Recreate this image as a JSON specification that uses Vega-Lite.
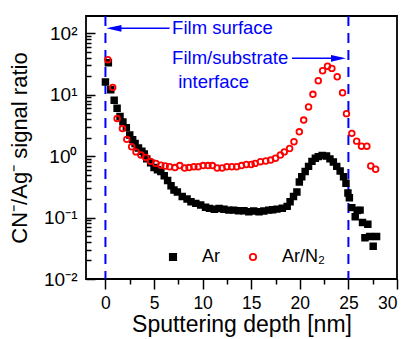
{
  "$schema": "https://vega.github.io/schema/vega-lite/v6.json",
  "width": 311,
  "height": 263,
  "autosize": "none",
  "padding": {"left": 86, "top": 16, "right": 13, "bottom": 60},
  "config": {
    "view": {"stroke": "black", "strokeWidth": 1.8},
    "font": "Liberation Sans",
    "axis": {"grid": false, "domain": false, "tickColor": "black", "tickWidth": 1.5, "labelColor": "black", "titleColor": "black", "labelFont": "Liberation Sans", "titleFont": "Liberation Sans", "titleFontWeight": "normal"},
    "legend": {"orient": "none", "legendX": 78, "legendY": 232, "direction": "horizontal", "symbolSize": 40, "symbolStrokeWidth": 1.8, "labelFontSize": 18, "labelFont": "Liberation Sans", "labelColor": "black", "labelOffset": 20, "columnPadding": 24, "title": null}
  },
  "datasets": {
    "pts": [
      {"d": 0.0, "r": 16, "s": "Ar"}, {"d": 0.3, "r": 33, "s": "Ar"}, {"d": 0.55, "r": 12, "s": "Ar"}, {"d": 0.9, "r": 8.1, "s": "Ar"},
      {"d": 1.2, "r": 6.0, "s": "Ar"}, {"d": 1.5, "r": 4.4, "s": "Ar"}, {"d": 1.8, "r": 3.6, "s": "Ar"}, {"d": 2.15, "r": 2.9, "s": "Ar"},
      {"d": 2.5, "r": 2.2, "s": "Ar"}, {"d": 2.8, "r": 1.85, "s": "Ar"}, {"d": 3.05, "r": 1.6, "s": "Ar"}, {"d": 3.4, "r": 1.35, "s": "Ar"},
      {"d": 3.75, "r": 1.2, "s": "Ar"}, {"d": 4.0, "r": 1.08, "s": "Ar"}, {"d": 4.25, "r": 0.9, "s": "Ar"}, {"d": 4.65, "r": 0.78, "s": "Ar"},
      {"d": 5.0, "r": 0.65, "s": "Ar"}, {"d": 5.35, "r": 0.6, "s": "Ar"}, {"d": 5.7, "r": 0.56, "s": "Ar"}, {"d": 6.05, "r": 0.48, "s": "Ar"},
      {"d": 6.4, "r": 0.4, "s": "Ar"}, {"d": 6.75, "r": 0.33, "s": "Ar"}, {"d": 7.05, "r": 0.28, "s": "Ar"}, {"d": 7.4, "r": 0.26, "s": "Ar"},
      {"d": 7.9, "r": 0.22, "s": "Ar"}, {"d": 8.4, "r": 0.2, "s": "Ar"}, {"d": 8.8, "r": 0.18, "s": "Ar"}, {"d": 9.3, "r": 0.17, "s": "Ar"},
      {"d": 9.8, "r": 0.16, "s": "Ar"}, {"d": 10.3, "r": 0.147, "s": "Ar"}, {"d": 10.7, "r": 0.141, "s": "Ar"}, {"d": 11.2, "r": 0.136, "s": "Ar"},
      {"d": 11.7, "r": 0.14, "s": "Ar"}, {"d": 12.2, "r": 0.136, "s": "Ar"}, {"d": 12.7, "r": 0.132, "s": "Ar"}, {"d": 13.2, "r": 0.132, "s": "Ar"},
      {"d": 13.7, "r": 0.129, "s": "Ar"}, {"d": 14.25, "r": 0.129, "s": "Ar"}, {"d": 14.75, "r": 0.124, "s": "Ar"}, {"d": 15.25, "r": 0.128, "s": "Ar"},
      {"d": 15.8, "r": 0.124, "s": "Ar"}, {"d": 16.3, "r": 0.128, "s": "Ar"}, {"d": 16.8, "r": 0.132, "s": "Ar"}, {"d": 17.2, "r": 0.134, "s": "Ar"},
      {"d": 17.65, "r": 0.137, "s": "Ar"}, {"d": 18.2, "r": 0.142, "s": "Ar"}, {"d": 18.7, "r": 0.152, "s": "Ar"}, {"d": 19.0, "r": 0.18, "s": "Ar"},
      {"d": 19.35, "r": 0.22, "s": "Ar"}, {"d": 19.7, "r": 0.26, "s": "Ar"}, {"d": 19.95, "r": 0.38, "s": "Ar"}, {"d": 20.2, "r": 0.46, "s": "Ar"},
      {"d": 20.55, "r": 0.56, "s": "Ar"}, {"d": 20.9, "r": 0.68, "s": "Ar"}, {"d": 21.25, "r": 0.82, "s": "Ar"}, {"d": 21.6, "r": 0.92, "s": "Ar"},
      {"d": 21.9, "r": 0.98, "s": "Ar"}, {"d": 22.3, "r": 1.02, "s": "Ar"}, {"d": 22.75, "r": 1.0, "s": "Ar"}, {"d": 23.1, "r": 0.9, "s": "Ar"},
      {"d": 23.45, "r": 0.8, "s": "Ar"}, {"d": 23.8, "r": 0.68, "s": "Ar"}, {"d": 24.15, "r": 0.57, "s": "Ar"}, {"d": 24.5, "r": 0.46, "s": "Ar"},
      {"d": 24.75, "r": 0.36, "s": "Ar"}, {"d": 24.95, "r": 0.25, "s": "Ar"}, {"d": 25.1, "r": 0.21, "s": "Ar"}, {"d": 25.35, "r": 0.145, "s": "Ar"},
      {"d": 25.9, "r": 0.13, "s": "Ar"}, {"d": 26.2, "r": 0.132, "s": "Ar"}, {"d": 25.7, "r": 0.103, "s": "Ar"}, {"d": 26.45, "r": 0.083, "s": "Ar"},
      {"d": 27.0, "r": 0.078, "s": "Ar"}, {"d": 26.7, "r": 0.047, "s": "Ar"}, {"d": 27.2, "r": 0.049, "s": "Ar"}, {"d": 27.9, "r": 0.049, "s": "Ar"},
      {"d": 27.55, "r": 0.034, "s": "Ar"},
      {"d": 0.25, "r": 37, "s": "Ar/N₂"}, {"d": 0.75, "r": 13.1, "s": "Ar/N₂"}, {"d": 1.2, "r": 4.1, "s": "Ar/N₂"}, {"d": 1.75, "r": 2.8, "s": "Ar/N₂"},
      {"d": 2.2, "r": 1.87, "s": "Ar/N₂"}, {"d": 2.7, "r": 1.42, "s": "Ar/N₂"}, {"d": 3.15, "r": 1.17, "s": "Ar/N₂"}, {"d": 3.65, "r": 1.04, "s": "Ar/N₂"},
      {"d": 4.15, "r": 0.95, "s": "Ar/N₂"}, {"d": 4.65, "r": 0.82, "s": "Ar/N₂"}, {"d": 5.2, "r": 0.76, "s": "Ar/N₂"}, {"d": 5.7, "r": 0.71, "s": "Ar/N₂"},
      {"d": 6.15, "r": 0.69, "s": "Ar/N₂"}, {"d": 6.6, "r": 0.67, "s": "Ar/N₂"}, {"d": 7.15, "r": 0.65, "s": "Ar/N₂"}, {"d": 7.65, "r": 0.7, "s": "Ar/N₂"},
      {"d": 8.15, "r": 0.64, "s": "Ar/N₂"}, {"d": 8.6, "r": 0.65, "s": "Ar/N₂"}, {"d": 9.1, "r": 0.67, "s": "Ar/N₂"}, {"d": 9.55, "r": 0.67, "s": "Ar/N₂"},
      {"d": 10.05, "r": 0.7, "s": "Ar/N₂"}, {"d": 10.55, "r": 0.7, "s": "Ar/N₂"}, {"d": 11.0, "r": 0.7, "s": "Ar/N₂"}, {"d": 11.5, "r": 0.64, "s": "Ar/N₂"},
      {"d": 12.0, "r": 0.64, "s": "Ar/N₂"}, {"d": 12.5, "r": 0.67, "s": "Ar/N₂"}, {"d": 13.0, "r": 0.67, "s": "Ar/N₂"}, {"d": 13.5, "r": 0.67, "s": "Ar/N₂"},
      {"d": 14.0, "r": 0.7, "s": "Ar/N₂"}, {"d": 14.5, "r": 0.73, "s": "Ar/N₂"}, {"d": 15.0, "r": 0.73, "s": "Ar/N₂"}, {"d": 15.4, "r": 0.76, "s": "Ar/N₂"},
      {"d": 15.95, "r": 0.81, "s": "Ar/N₂"}, {"d": 16.5, "r": 0.83, "s": "Ar/N₂"}, {"d": 17.0, "r": 0.86, "s": "Ar/N₂"}, {"d": 17.5, "r": 0.92, "s": "Ar/N₂"},
      {"d": 18.0, "r": 1.04, "s": "Ar/N₂"}, {"d": 18.4, "r": 1.17, "s": "Ar/N₂"}, {"d": 18.95, "r": 1.33, "s": "Ar/N₂"}, {"d": 19.4, "r": 1.71, "s": "Ar/N₂"},
      {"d": 19.95, "r": 2.48, "s": "Ar/N₂"}, {"d": 20.4, "r": 3.85, "s": "Ar/N₂"}, {"d": 20.9, "r": 6.3, "s": "Ar/N₂"}, {"d": 21.35, "r": 10.1, "s": "Ar/N₂"},
      {"d": 21.9, "r": 16.8, "s": "Ar/N₂"}, {"d": 22.35, "r": 24.4, "s": "Ar/N₂"}, {"d": 22.85, "r": 29, "s": "Ar/N₂"}, {"d": 23.3, "r": 26.7, "s": "Ar/N₂"},
      {"d": 23.85, "r": 19.5, "s": "Ar/N₂"}, {"d": 24.4, "r": 10.7, "s": "Ar/N₂"}, {"d": 24.8, "r": 4.9, "s": "Ar/N₂"}, {"d": 25.35, "r": 2.34, "s": "Ar/N₂"},
      {"d": 25.85, "r": 1.75, "s": "Ar/N₂"}, {"d": 26.35, "r": 1.45, "s": "Ar/N₂"}, {"d": 26.9, "r": 1.45, "s": "Ar/N₂"}, {"d": 27.3, "r": 0.69, "s": "Ar/N₂"},
      {"d": 27.8, "r": 0.61, "s": "Ar/N₂"}
    ],
    "vlines": [{"d": 0}, {"d": 25}],
    "arrows": [
      {"d": 0.5, "r": 120, "a": "surface"}, {"d": 6.6, "r": 120, "a": "surface"},
      {"d": 19.2, "r": 39, "a": "interface"}, {"d": 24.3, "r": 39, "a": "interface"}
    ],
    "labels": [
      {"d": 6.86, "r": 120, "t": "Film surface"},
      {"d": 6.86, "r": 39, "t": "Film/substrate"},
      {"d": 7.48, "r": 16, "t": "interface"}
    ],
    "headL": [{"d": 0.1, "r": 120}],
    "headR": [{"d": 24.75, "r": 39}]
  },
  "layer": [
    {
      "data": {"name": "vlines"},
      "mark": {"type": "rule", "color": "#0000ff", "strokeWidth": 2, "strokeDash": [10, 7]},
      "encoding": {"x": {"field": "d", "type": "quantitative", "axis": null}}
    },
    {
      "data": {"name": "pts"},
      "mark": {"type": "point", "size": 32, "strokeWidth": 1.8, "opacity": 1},
      "encoding": {
        "x": {"field": "d", "type": "quantitative", "scale": {"domain": [-2, 30], "nice": false, "zero": false},
          "axis": {"orient": "bottom", "values": [0, 5, 10, 15, 20, 25, 30], "tickSize": 10, "labelFontSize": 17.5, "labelPadding": 5, "title": "Sputtering depth [nm]", "titleFontSize": 23, "titlePadding": 2}},
        "y": {"field": "r", "type": "quantitative", "scale": {"type": "log", "domain": [0.01, 190], "nice": false},
          "axis": {"orient": "left", "values": [0.01, 0.1, 1, 10, 100], "tickSize": -9, "labelPadding": 18, "labelFontSize": 19,
            "labelExpr": "datum.value >= 99 ? '10²' : datum.value >= 9 ? '10¹' : datum.value >= 0.9 ? '10⁰' : datum.value >= 0.09 ? '10⁻¹' : '10⁻²'",
            "title": "CN⁻/Ag⁻ signal ratio", "titleFontSize": 22, "titlePadding": 12}},
        "shape": {"field": "s", "type": "nominal", "scale": {"domain": ["Ar", "Ar/N₂"], "range": ["square", "circle"]}, "legend": {"title": null}},
        "fill": {"field": "s", "type": "nominal", "scale": {"domain": ["Ar", "Ar/N₂"], "range": ["#000000", "transparent"]}, "legend": {"title": null}},
        "stroke": {"field": "s", "type": "nominal", "scale": {"domain": ["Ar", "Ar/N₂"], "range": ["#000000", "#ff0000"]}, "legend": {"title": null}}
      }
    },
    {
      "data": {"name": "arrows"},
      "mark": {"type": "line", "color": "#0000ff", "strokeWidth": 1.5},
      "encoding": {
        "x": {"field": "d", "type": "quantitative", "axis": {"orient": "bottom", "values": [2.5, 7.5, 12.5, 17.5, 22.5, 27.5], "labels": false, "tickSize": 5, "title": null}},
        "y": {"field": "r", "type": "quantitative", "axis": {"orient": "left", "values": [0.02, 0.03, 0.04, 0.05, 0.06, 0.07, 0.08, 0.09, 0.2, 0.3, 0.4, 0.5, 0.6, 0.7, 0.8, 0.9, 2, 3, 4, 5, 6, 7, 8, 9, 20, 30, 40, 50, 60, 70, 80, 90], "labels": false, "tickSize": -5, "title": null}},
        "detail": {"field": "a"}
      }
    },
    {
      "data": {"name": "labels"},
      "mark": {"type": "text", "align": "left", "baseline": "middle", "fontSize": 18.5, "color": "#0000ff", "font": "Liberation Sans"},
      "encoding": {
        "x": {"field": "d", "type": "quantitative", "axis": null},
        "y": {"field": "r", "type": "quantitative", "axis": null},
        "text": {"field": "t"}
      }
    },
    {
      "data": {"name": "headL"},
      "mark": {"type": "point", "shape": "M 0 0 L 2 -0.45 L 2 0.45 Z", "size": 225, "filled": true, "color": "#0000ff", "opacity": 1},
      "encoding": {
        "x": {"field": "d", "type": "quantitative", "axis": null},
        "y": {"field": "r", "type": "quantitative", "axis": null}
      }
    },
    {
      "data": {"name": "headR"},
      "mark": {"type": "point", "shape": "M 0 0 L -2 -0.45 L -2 0.45 Z", "size": 225, "filled": true, "color": "#0000ff", "opacity": 1},
      "encoding": {
        "x": {"field": "d", "type": "quantitative", "axis": null},
        "y": {"field": "r", "type": "quantitative", "axis": null}
      }
    }
  ],
  "resolve": {"axis": {"x": "independent", "y": "independent"}}
}
